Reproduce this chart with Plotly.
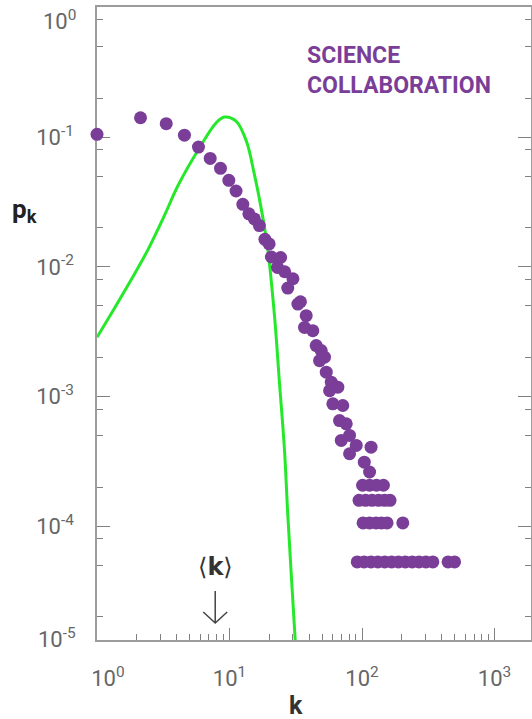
import math
import plotly.graph_objects as go

# ---------------- data ----------------
# degree k and p_k of the science collaboration network (main cloud)
k_dots = [1.0, 2.13, 3.33, 4.57, 5.83, 7.15, 8.55, 9.88, 11.2, 12.6,
          14.0, 15.4, 16.8, 18.5, 19.9, 20.7, 24.3, 23.0, 26.1, 30.1,
          27.5, 32.8, 34.3, 37.9, 36.8, 42.5, 45.1, 49.2, 47.8, 52.1,
          53.7, 58.6, 65.7, 56.9, 60.2, 71.6, 67.6, 76.0, 80.5, 69.7,
          90.4, 117, 80.5, 104, 114]
p_dots = [0.105, 0.141, 0.127, 0.1035, 0.0838, 0.0685, 0.0574, 0.0464, 0.0384, 0.0303,
          0.0256, 0.0234, 0.0208, 0.0163, 0.0150, 0.0119, 0.0118, 0.00989, 0.00916, 0.00809,
          0.00686, 0.00516, 0.00538, 0.00420, 0.00341, 0.00322, 0.00247, 0.00226, 0.00189, 0.00201,
          0.00154, 0.00129, 0.00118, 0.00111, 0.000879, 0.000853, 0.000653, 0.000616, 0.000501, 0.000459,
          0.000420, 0.000407, 0.000362, 0.000312, 0.000262]

# tail: discrete count levels (4, 3, 2 and 1 nodes)
tail_levels = [2.07e-4, 1.585e-4, 1.06e-4, 5.31e-5]
k_tail_4 = [100.9, 114, 128.6, 145]
k_tail_3 = [94.9, 106.3, 119, 133.3, 147.9, 162.6]
k_tail_2 = [101.8, 114, 127.6, 140.3, 154.4, 203]
k_tail_1 = [92.0, 103.7, 116.8, 131.6, 148.3, 167.2, 188.2, 212.2, 239.2,
            269.2, 303.4, 342.2, 445.9, 499.3]

# Poisson reference curve (green)
k_poisson = [1.0, 1.355, 1.81, 2.42, 3.23, 4.07, 5.94, 7.94, 9.17, 11.2,
             13.4, 15.4, 17.3, 19.5, 21.9, 23.8, 26.0, 27.5, 31.3, 32.0]
p_poisson = [2.86e-3, 4.80e-3, 7.94e-3, 0.01352, 0.0249, 0.0420, 0.0828, 0.129, 0.1426, 0.1327,
             0.0932, 0.0516, 0.0286, 0.01327, 0.00407, 0.00129, 3.85e-4, 1.25e-4, 1.33e-5, 9.3e-6]

k_mean = 7.8

NB = "\u00a0"
x_tickvals = [1, 10, 100, 1000]
x_ticktext = [NB * 4 + "10<sup>0</sup>", "10<sup>1</sup>", "10<sup>2</sup>", "10<sup>3</sup>"]
y_tickvals = [1e-4, 1e-3, 1e-2, 1e-1, 1]
y_ticktext = ["10<sup>-4</sup>", "10<sup>-3</sup>", "10<sup>-2</sup>", "10<sup>-1</sup>", ""]
y_top_label = "10<sup>0</sup>"
y_bottom_label = "10<sup>-5</sup>"

X_RANGE = [0, 3.275]
Y_RANGE = [-4.877, 0.003]

# ---------------- build ----------------
k_tail_rows = [k_tail_4, k_tail_3, k_tail_2, k_tail_1]
k_all = list(k_dots)
p_all = list(p_dots)
for row, lvl in zip(k_tail_rows, tail_levels):
    k_all += row
    p_all += [lvl] * len(row)

x_minor = [m * 10 ** e for e in range(0, 4) for m in range(2, 10)]
y_minor = [m * 10.0 ** e for e in range(-5, 0) for m in (2, 5, 8)]

PURPLE = "#7A3E98"
GREEN = "#26E82A"
AXIS = "#9c9c9c"
TICKC = "#808080"
LABEL = "#666666"
FONT = "Roboto, Lato, 'DejaVu Sans', sans-serif"

fig = go.Figure()
fig.add_trace(go.Scatter(x=k_poisson, y=p_poisson, mode="lines",
                         line=dict(color=GREEN, width=3, shape="spline", smoothing=1.0),
                         hoverinfo="skip", showlegend=False))
fig.add_trace(go.Scatter(x=k_all, y=p_all, mode="markers",
                         marker=dict(color=PURPLE, size=13, line=dict(width=0)),
                         cliponaxis=False, showlegend=False))

fig.update_layout(
    width=532, height=719, autosize=False,
    margin=dict(l=97, r=1, t=7, b=79, autoexpand=False),
    paper_bgcolor="white", plot_bgcolor="white",
    font=dict(family=FONT),
    xaxis=dict(type="log", range=X_RANGE, showgrid=False, zeroline=False, automargin=False,
               showline=True, linecolor=AXIS, linewidth=1.5, mirror=True,
               ticks="inside", ticklen=12, tickwidth=1.2, tickcolor=TICKC,
               tickvals=x_tickvals, ticktext=x_ticktext,
               tickfont=dict(size=22, color=LABEL, family=FONT),
               ticklabelstandoff=18,
               minor=dict(tickmode="array", tickvals=x_minor, ticks="inside",
                          ticklen=6, tickwidth=1.2, tickcolor=TICKC, showgrid=False),
               layer="below traces"),
    yaxis=dict(type="log", range=Y_RANGE, showgrid=False, zeroline=False, automargin=False,
               showline=True, linecolor=AXIS, linewidth=1.5, mirror="ticks",
               ticks="inside", ticklen=13, tickwidth=1.2, tickcolor=TICKC,
               tickvals=y_tickvals, ticktext=y_ticktext,
               tickfont=dict(size=22, color=LABEL, family=FONT),
               ticklabelstandoff=17,
               minor=dict(tickmode="array", tickvals=y_minor, ticks="inside",
                          ticklen=6, tickwidth=1.2, tickcolor=TICKC, showgrid=False),
               layer="below traces"),
)

# edge labels of the y axis (set slightly inside the corners as in the reference)
fig.add_annotation(text=y_top_label, xref="paper", yref="paper", x=0, y=1,
                   xanchor="right", yanchor="middle", xshift=-19, yshift=-13, showarrow=False,
                   font=dict(size=22, color=LABEL, family=FONT))
fig.add_annotation(text=y_bottom_label, xref="paper", yref="paper", x=0, y=0,
                   xanchor="right", yanchor="middle", xshift=-19, yshift=2, showarrow=False,
                   font=dict(size=22, color=LABEL, family=FONT))
fig.add_annotation(text="<b>p</b><sub><b>k</b></sub>", xref="paper", yref="paper",
                   x=-0.168, y=0.679, xanchor="center", yanchor="middle", showarrow=False,
                   font=dict(size=26, color="#222222", family=FONT))
fig.add_annotation(text="<b>k</b>", xref="paper", yref="paper",
                   x=0.4585, y=-0.104, xanchor="center", yanchor="middle", showarrow=False,
                   font=dict(size=25, color="#333333", family=FONT))
fig.add_annotation(text="<b>SCIENCE<br>COLLABORATION</b>", xref="paper", yref="paper",
                   x=0.479, y=0.948, xanchor="left", yanchor="top", align="left",
                   showarrow=False, font=dict(size=23, color=PURPLE, family=FONT))

# <k> marker: label and a thin down arrow at k = <k>
xk = math.log10(k_mean)
fig.add_annotation(text="⟨<b>k</b>⟩", xref="x", yref="paper",
                   x=xk, y=0.115, xanchor="center", yanchor="middle",
                   showarrow=False, font=dict(size=24, color="#333333", family="DejaVu Sans"))
xp = (xk - X_RANGE[0]) / (X_RANGE[1] - X_RANGE[0])
hw = 0.0276
fig.add_shape(type="path", xref="paper", yref="paper",
              path=(f"M {xp},0.0774 L {xp},0.0269 "
                    f"M {xp - hw},0.0442 L {xp},0.0269 L {xp + hw},0.0442"),
              line=dict(color="#444444", width=1.5))

fig.write_html("out.html",
               config={"displayModeBar": False},
               post_script="document.body.style.margin='0px';document.body.style.overflow='hidden';")
